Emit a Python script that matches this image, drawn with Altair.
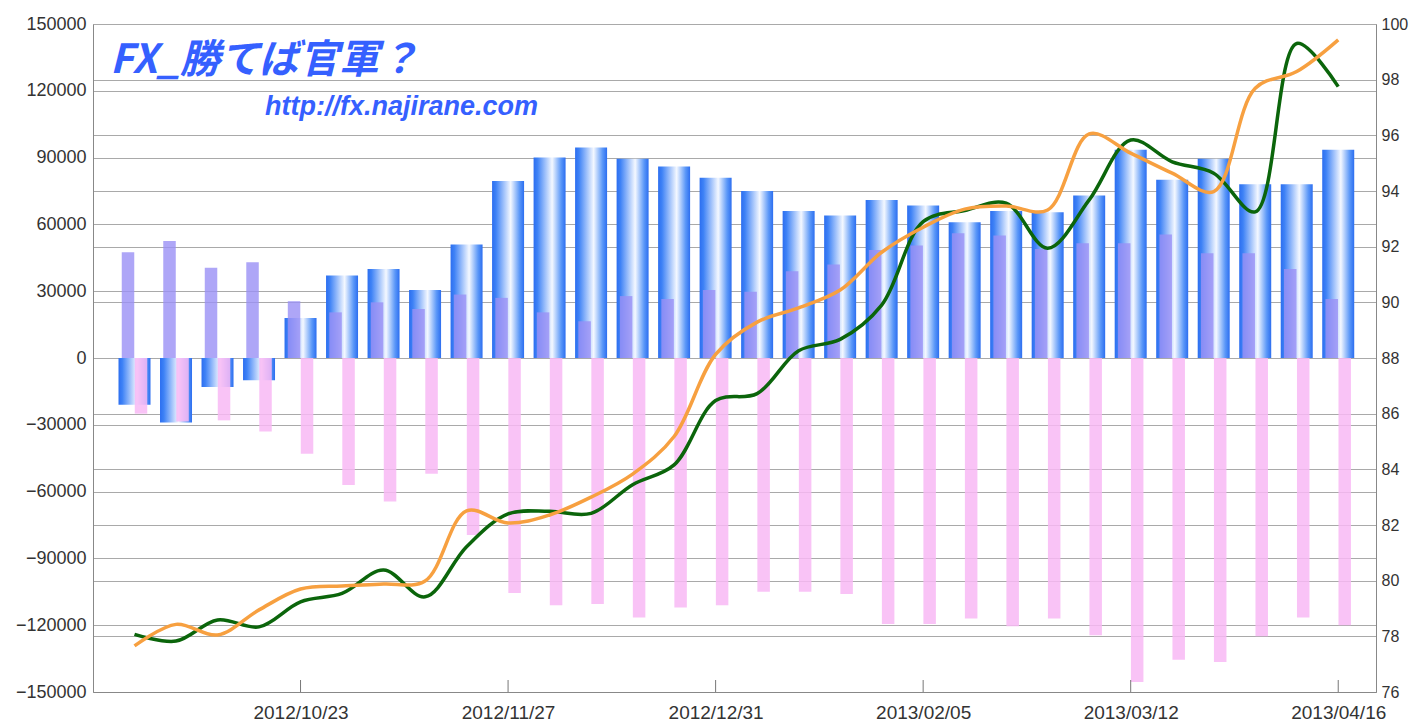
import altair as alt
import pandas as pd

dates = ["2012/09/25", "2012/10/02", "2012/10/09", "2012/10/16", "2012/10/23",
         "2012/10/30", "2012/11/06", "2012/11/13", "2012/11/20", "2012/11/27",
         "2012/12/04", "2012/12/11", "2012/12/18", "2012/12/25", "2012/12/31",
         "2013/01/08", "2013/01/15", "2013/01/22", "2013/01/29", "2013/02/05",
         "2013/02/12", "2013/02/19", "2013/02/26", "2013/03/05", "2013/03/12",
         "2013/03/19", "2013/03/26", "2013/04/02", "2013/04/09", "2013/04/16"]
week_index = list(range(len(dates)))
label_weeks = [4, 9, 14, 19, 24, 29]

net = [-21000, -29000, -13000, -10000, 18000, 37000, 40000, 30500, 51000, 79500,
       90000, 94500, 89500, 86000, 81000, 75000, 66000, 64000, 71000, 68500,
       61000, 66000, 65500, 73000, 93500, 80000, 89500, 78000, 78000, 93500]
wins = [47500, 52500, 40500, 43000, 25500, 20500, 25000, 22000, 28500, 27000,
        20500, 16500, 27800, 26500, 30500, 29700, 39000, 42000, 48500, 50500,
        56000, 55000, 49000, 51500, 51500, 55500, 47000, 47000, 40000, 26500]
losses = [-25000, -28500, -28000, -33000, -43000, -57000, -64500, -52000, -79500, -105500,
          -111000, -110500, -116500, -112000, -111000, -105000, -105000, -106000, -119500, -119500,
          -117000, -120500, -117000, -124500, -145500, -135500, -136500, -125000, -116500, -120000]
green = [78.07, 77.83, 78.59, 78.34, 79.24, 79.54, 80.38, 79.42, 81.22, 82.40,
         82.49, 82.42, 83.45, 84.16, 86.47, 86.72, 88.26, 88.67, 89.90, 92.90,
         93.30, 93.56, 91.94, 93.68, 95.83, 95.05, 94.64, 93.25, 99.30, 97.75]
orange = [77.66, 78.43, 78.05, 78.95, 79.70, 79.81, 79.88, 79.99, 82.51, 82.07,
          82.36, 83.00, 83.83, 85.18, 88.13, 89.29, 89.80, 90.44, 91.80, 92.70,
          93.35, 93.46, 93.32, 96.05, 95.36, 94.64, 93.98, 97.69, 98.29, 99.43]

left_ticks = [-150000, -120000, -90000, -60000, -30000, 0, 30000, 60000, 90000, 120000, 150000]
right_ticks = [76, 78, 80, 82, 84, 86, 88, 90, 92, 94, 96, 98, 100]

title_text = "FX_勝てば官軍？"
url_text = "http://fx.najirane.com"

df = pd.DataFrame({"i": week_index, "date": dates, "net": net, "win": wins,
                   "loss": losses, "green": green, "orange": orange})
tick_df = pd.DataFrame({"i": label_weeks})

W, H = 1283, 668
FONT = "Liberation Sans"
GRID = "#a9a9a9"

label_expr = "[" + ",".join("'%s'" % d for d in dates) + "][datum.value]"

xscale = alt.Scale(domain=[-1, 29.91], nice=False, zero=False, padding=0)
xaxis = alt.Axis(values=label_weeks, labelExpr=label_expr, grid=False, ticks=False,
                 domainColor="#888888", labelFontSize=19, labelColor="#333333",
                 labelFont=FONT, labelPadding=11, title=None, labelFlush=False)

yL = alt.Scale(domain=[-150000, 150000], nice=False, zero=False)
yLaxis = alt.Axis(values=left_ticks, format="d", grid=True, gridColor=GRID, ticks=False,
                  domainColor="#888888", labelFontSize=18, labelColor="#333333",
                  labelFont=FONT, labelPadding=7, title=None, orient="left")
yR = alt.Scale(domain=[76, 100], nice=False, zero=False)
yRaxis = alt.Axis(values=right_ticks, grid=True, gridColor=GRID, ticks=False,
                  domainColor="#888888", labelFontSize=16, labelColor="#333333",
                  labelFont=FONT, labelPadding=5, title=None, orient="right")

grad = alt.LinearGradient(
    gradient="linear", x1=0, x2=1, y1=0, y2=0,
    stops=[alt.GradientStop(color="#2c6ef0", offset=0),
           alt.GradientStop(color="#3e82f6", offset=0.12),
           alt.GradientStop(color="#f4f8ff", offset=0.58),
           alt.GradientStop(color="#5a97f8", offset=0.86),
           alt.GradientStop(color="#2c6ef0", offset=1)])

base = alt.Chart(df)
X = alt.X("i:Q", scale=xscale, axis=xaxis)

blue = base.mark_bar(size=32, color=grad).encode(
    x=X, y=alt.Y("net:Q", scale=yL, axis=yLaxis))
lav = base.mark_bar(size=12.5, xOffset=-6.5, color="#9a90f5", opacity=0.8).encode(
    x=X, y=alt.Y("win:Q", scale=yL, axis=yLaxis))
pink = base.mark_bar(size=12.5, xOffset=6.5, color="#f8b8f4", opacity=0.85).encode(
    x=X, y=alt.Y("loss:Q", scale=yL, axis=yLaxis))
ticks = alt.Chart(tick_df).mark_rule(color="#777777", strokeWidth=1).encode(
    x=X, y=alt.value(H - 12), y2=alt.value(H))

t1 = alt.Chart(pd.DataFrame({"t": [title_text]})).mark_text(
    font="Noto Sans CJK JP", fontSize=40, fontWeight="bold", fontStyle="italic",
    color="#3560ff", align="left", baseline="middle").encode(
    text="t:N", x=alt.value(17), y=alt.value(37))
t2 = alt.Chart(pd.DataFrame({"t": [url_text]})).mark_text(
    font=FONT, fontSize=27, fontWeight="bold", fontStyle="italic",
    color="#3560ff", align="left", baseline="middle").encode(
    text="t:N", x=alt.value(172), y=alt.value(83))

g_line = base.mark_line(color="#0b650b", strokeWidth=3.5, interpolate="catmull-rom").encode(
    x=X, y=alt.Y("green:Q", scale=yR, axis=yRaxis))
o_line = base.mark_line(color="#f7a040", strokeWidth=3.5, interpolate="catmull-rom").encode(
    x=X, y=alt.Y("orange:Q", scale=yR, axis=yRaxis))

left = alt.layer(blue, lav, pink, ticks, t1, t2)
right = alt.layer(g_line, o_line)

chart = alt.layer(left, right).resolve_scale(y="independent").properties(
    width=W, height=H,
    autosize=alt.AutoSizeParams(type="none"),
    padding={"left": 85, "top": 16, "right": 34, "bottom": 30},
).configure_view(stroke="#999999", fill="white").configure(background="white")

chart.save("out.html", embed_options={"renderer": "svg", "actions": False})
